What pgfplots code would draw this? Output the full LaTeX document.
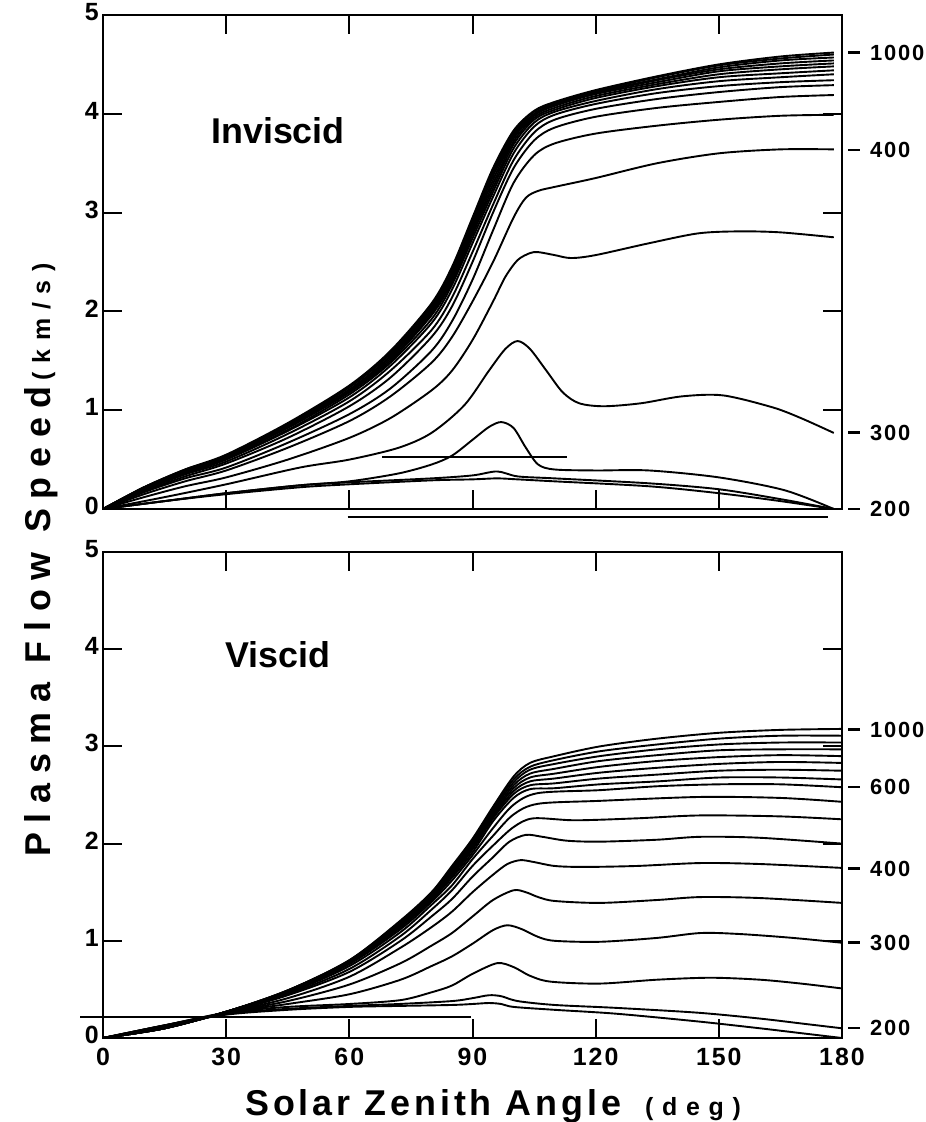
\documentclass[border=0pt]{standalone}
\usepackage{pgfplots}
\pgfplotsset{compat=1.18}
\usepackage{fontspec}
\setmainfont{Liberation Sans}
\newfontfamily\hlabfont[LetterSpace=11]{Liberation Sans}
\newfontfamily\vlabfont[LetterSpace=27]{Liberation Sans}
\newfontfamily\unitfont[LetterSpace=35]{Liberation Sans}
\newfontfamily\tickfont[LetterSpace=8]{Liberation Sans}
\newcommand{\rl}[1]{\rule[0.3em]{12bp}{2.4bp}\hspace{10bp}#1}
\tikzset{rlab/.style={anchor=west, inner sep=0pt, xshift=6bp, font=\tickfont\fontsize{22}{22}\selectfont\bfseries}}
\begin{document}
\begin{tikzpicture}
\useasboundingbox (0bp,0bp) rectangle (926bp,-1122bp);
\pgfplotsset{
  panel/.style={
    scale only axis, width=739bp,
    xmin=0, xmax=180, ymin=0, ymax=5,
    xtick={0,30,...,180}, ytick={0,1,...,5},
    tick align=inside, xtick pos=both, ytick pos=both,
    major tick length=19bp,
    axis line style={line width=2bp},
    major tick style={line width=2bp, black},
    tick label style={font=\tickfont\fontsize{25}{25}\selectfont\bfseries},
    yticklabel style={inner xsep=4bp, yshift=3bp},
    /pgf/number format/assume math mode=true,
    clip=false,
  },
  cv/.style={black, line width=1.9bp, smooth, tension=0.5},
  art/.style={black, line width=2bp},
}

% ---------------- Top panel: Inviscid ----------------
\begin{axis}[panel, at={(103bp,-509bp)}, anchor=south west, height=494bp, xticklabels={}]
% cluster 650-1000 km
\addplot[cv] coordinates {(0,0)(10,0.22)(20,0.40)(30,0.55)(45,0.87)(60,1.25)(70,1.60)(80,2.08)(85,2.45)(90,2.95)(95,3.45)(100,3.83)(105,4.03)(110,4.12)(120,4.24)(135,4.38)(150,4.50)(165,4.58)(178,4.62)};
\addplot[cv] coordinates {(0,0)(10,0.22)(20,0.40)(30,0.54)(45,0.86)(60,1.24)(70,1.58)(80,2.06)(85,2.43)(90,2.92)(95,3.42)(100,3.81)(105,4.02)(110,4.11)(120,4.23)(135,4.37)(150,4.49)(165,4.56)(178,4.60)};
\addplot[cv] coordinates {(0,0)(10,0.22)(20,0.39)(30,0.54)(45,0.85)(60,1.23)(70,1.57)(80,2.04)(85,2.40)(90,2.90)(95,3.40)(100,3.79)(105,4.00)(110,4.10)(120,4.22)(135,4.35)(150,4.47)(165,4.54)(178,4.57)};
\addplot[cv] coordinates {(0,0)(10,0.21)(20,0.39)(30,0.53)(45,0.84)(60,1.21)(70,1.55)(80,2.02)(85,2.38)(90,2.87)(95,3.37)(100,3.77)(105,3.99)(110,4.09)(120,4.21)(135,4.34)(150,4.45)(165,4.51)(178,4.54)};
\addplot[cv] coordinates {(0,0)(10,0.21)(20,0.38)(30,0.53)(45,0.84)(60,1.20)(70,1.54)(80,2.00)(85,2.35)(90,2.84)(95,3.33)(100,3.75)(105,3.98)(110,4.08)(120,4.20)(135,4.32)(150,4.43)(165,4.48)(178,4.51)};
\addplot[cv] coordinates {(0,0)(10,0.21)(20,0.38)(30,0.52)(45,0.83)(60,1.19)(70,1.52)(80,1.98)(85,2.33)(90,2.81)(95,3.29)(100,3.72)(105,3.96)(110,4.06)(120,4.18)(135,4.30)(150,4.40)(165,4.45)(178,4.48)};
\addplot[cv] coordinates {(0,0)(10,0.21)(20,0.38)(30,0.52)(45,0.82)(60,1.18)(70,1.50)(80,1.96)(85,2.30)(90,2.78)(95,3.25)(100,3.69)(105,3.94)(110,4.04)(120,4.16)(135,4.28)(150,4.37)(165,4.41)(178,4.44)};
\addplot[cv] coordinates {(0,0)(10,0.20)(20,0.37)(30,0.51)(45,0.80)(60,1.16)(70,1.48)(80,1.92)(85,2.27)(90,2.74)(95,3.21)(100,3.65)(105,3.91)(110,4.02)(120,4.13)(135,4.25)(150,4.33)(165,4.37)(178,4.40)};
% 600, 550, 500, 450 km
\addplot[cv] coordinates {(0,0)(10,0.20)(20,0.36)(30,0.50)(45,0.79)(60,1.13)(70,1.45)(80,1.88)(85,2.22)(90,2.69)(95,3.16)(100,3.60)(105,3.87)(110,3.99)(120,4.10)(135,4.21)(150,4.28)(165,4.32)(178,4.34)};
\addplot[cv] coordinates {(0,0)(10,0.19)(20,0.35)(30,0.48)(45,0.76)(60,1.09)(70,1.40)(80,1.81)(85,2.14)(90,2.60)(95,3.08)(100,3.53)(105,3.81)(110,3.94)(120,4.05)(135,4.15)(150,4.22)(165,4.27)(178,4.29)};
\addplot[cv] coordinates {(0,0)(10,0.18)(20,0.33)(30,0.46)(45,0.72)(60,1.04)(70,1.33)(80,1.74)(85,2.05)(90,2.50)(95,3.00)(100,3.45)(105,3.73)(110,3.86)(120,3.97)(135,4.06)(150,4.12)(165,4.17)(178,4.19)};
\addplot[cv] coordinates {(0,0)(10,0.17)(20,0.31)(30,0.42)(45,0.67)(60,0.96)(70,1.22)(80,1.60)(85,1.90)(90,2.32)(95,2.82)(100,3.30)(105,3.58)(110,3.70)(120,3.80)(135,3.88)(150,3.94)(165,3.98)(178,3.99)};
% 400 km
\addplot[cv] coordinates {(0,0)(10,0.15)(20,0.28)(30,0.39)(45,0.62)(60,0.89)(70,1.14)(80,1.48)(85,1.74)(90,2.10)(95,2.50)(100,2.95)(103,3.15)(106,3.22)(110,3.26)(120,3.35)(135,3.50)(150,3.60)(165,3.64)(178,3.64)};
% 350 km
\addplot[cv] coordinates {(0,0)(10,0.12)(20,0.23)(30,0.32)(45,0.50)(60,0.72)(70,0.92)(80,1.20)(85,1.40)(90,1.71)(95,2.10)(98,2.35)(101,2.52)(104,2.59)(106,2.60)(110,2.57)(114,2.54)(120,2.57)(133,2.69)(145,2.79)(155,2.81)(165,2.80)(178,2.75)};
% 300 km
\addplot[cv] coordinates {(0,0)(15,0.12)(30,0.25)(48,0.42)(60,0.50)(72,0.62)(80,0.77)(88,1.05)(94,1.40)(98,1.62)(101,1.70)(104,1.62)(108,1.40)(112,1.18)(116,1.07)(122,1.04)(131,1.07)(141,1.14)(151,1.15)(163,1.03)(170,0.92)(178,0.77)};
% 250 km and below
\addplot[cv] coordinates {(0,0)(15,0.08)(30,0.16)(48,0.24)(60,0.28)(72,0.36)(80,0.45)(85,0.54)(90,0.70)(94,0.83)(97,0.88)(100,0.82)(103,0.62)(106,0.45)(110,0.40)(120,0.39)(133,0.39)(150,0.32)(166,0.19)(178,0.0)};
\addplot[cv] coordinates {(0,0)(15,0.08)(30,0.16)(48,0.24)(60,0.27)(80,0.31)(90,0.34)(96,0.38)(101,0.33)(110,0.31)(133,0.26)(150,0.20)(165,0.10)(178,0.0)};
\addplot[cv] coordinates {(0,0)(15,0.08)(30,0.15)(48,0.22)(60,0.25)(80,0.29)(90,0.30)(96,0.31)(101,0.30)(110,0.28)(133,0.23)(150,0.16)(165,0.08)(178,0.0)};
% stray horizontal rules of the original figure
\addplot[art] coordinates {(68,0.53)(113,0.53)};
\addplot[art] coordinates {(59.6,-0.08)(176.6,-0.08)};
\node[anchor=west, font=\fontsize{36}{36}\selectfont\bfseries] at (axis cs:25.5,3.83) {Inviscid};
\node[rlab] at (axis cs:180,4.62) {\rl{1000}};
\node[rlab] at (axis cs:180,3.63) {\rl{400}};
\node[rlab] at (axis cs:180,0.77) {\rl{300}};
\node[rlab] at (axis cs:180,0.0) {\rl{200}};
\end{axis}

% ---------------- Bottom panel: Viscid ----------------
\begin{axis}[panel, at={(103bp,-1038bp)}, anchor=south west, height=486bp,
  xticklabel style={yshift=-7bp}]
\addplot[cv] coordinates {(0,0)(15,0.10)(30,0.27)(45,0.49)(60,0.80)(72.5,1.21)(80,1.50)(85,1.77)(90,2.05)(95,2.38)(100,2.69)(104,2.83)(110,2.90)(121,3.00)(135,3.08)(150,3.14)(165,3.17)(180,3.18)};
\addplot[cv] coordinates {(0,0)(15,0.10)(30,0.27)(45,0.49)(60,0.80)(72.5,1.20)(80,1.49)(85,1.75)(90,2.03)(95,2.36)(100,2.66)(104,2.79)(110,2.86)(121,2.95)(135,3.02)(150,3.08)(165,3.11)(180,3.11)};
\addplot[cv] coordinates {(0,0)(15,0.10)(30,0.27)(45,0.49)(60,0.79)(72.5,1.19)(80,1.48)(85,1.73)(90,2.01)(95,2.34)(100,2.63)(104,2.76)(110,2.82)(121,2.90)(135,2.97)(150,3.02)(165,3.04)(180,3.04)};
\addplot[cv] coordinates {(0,0)(15,0.10)(30,0.27)(45,0.48)(60,0.79)(72.5,1.18)(80,1.47)(85,1.72)(90,1.99)(95,2.32)(100,2.60)(104,2.72)(110,2.77)(121,2.85)(135,2.91)(150,2.96)(165,2.97)(180,2.97)};
\addplot[cv] coordinates {(0,0)(15,0.10)(30,0.27)(45,0.48)(60,0.78)(72.5,1.17)(80,1.46)(85,1.70)(90,1.98)(95,2.30)(100,2.57)(104,2.68)(110,2.72)(121,2.79)(135,2.85)(150,2.89)(165,2.91)(180,2.90)};
\addplot[cv] coordinates {(0,0)(15,0.10)(30,0.27)(45,0.48)(60,0.78)(72.5,1.16)(80,1.45)(85,1.69)(90,1.96)(95,2.28)(100,2.54)(104,2.64)(110,2.67)(121,2.73)(135,2.78)(150,2.82)(165,2.84)(180,2.83)};
\addplot[cv] coordinates {(0,0)(15,0.10)(30,0.27)(45,0.47)(60,0.77)(72.5,1.15)(80,1.44)(85,1.67)(90,1.94)(95,2.26)(100,2.51)(104,2.60)(110,2.62)(121,2.67)(135,2.71)(150,2.75)(165,2.76)(180,2.75)};
\addplot[cv] coordinates {(0,0)(15,0.10)(30,0.27)(45,0.47)(60,0.77)(72.5,1.14)(80,1.42)(85,1.65)(90,1.91)(95,2.23)(100,2.47)(104,2.56)(110,2.57)(121,2.61)(135,2.64)(150,2.68)(165,2.68)(180,2.66)};
% 600 km
\addplot[cv] coordinates {(0,0)(15,0.11)(30,0.27)(45,0.47)(60,0.76)(72.5,1.12)(80,1.40)(85,1.62)(90,1.88)(95,2.16)(100,2.40)(106,2.52)(121,2.55)(135,2.59)(150,2.61)(165,2.61)(180,2.58)};
\addplot[cv] coordinates {(0,0)(15,0.11)(30,0.26)(45,0.46)(60,0.74)(72.5,1.09)(80,1.37)(85,1.57)(90,1.84)(95,2.08)(100,2.30)(106,2.41)(121,2.44)(145.5,2.48)(165,2.47)(180,2.43)};
\addplot[cv] coordinates {(0,0)(15,0.11)(30,0.26)(45,0.45)(60,0.71)(72.5,1.05)(80,1.32)(85,1.52)(90,1.77)(95,1.98)(100,2.17)(104.8,2.26)(115,2.24)(130,2.26)(145.5,2.29)(165,2.28)(180,2.25)};
\addplot[cv] coordinates {(0,0)(15,0.11)(30,0.26)(45,0.44)(60,0.68)(72.5,1.00)(80,1.25)(85,1.43)(90,1.66)(95,1.86)(99,2.02)(103,2.09)(107,2.07)(113,2.03)(121,2.02)(135,2.04)(145.5,2.07)(160,2.06)(180,2.00)};
% 400 km
\addplot[cv] coordinates {(0,0)(15,0.12)(30,0.26)(45,0.41)(60,0.63)(72.5,0.93)(80,1.14)(85,1.30)(90,1.50)(95,1.68)(98.5,1.79)(101.7,1.83)(105,1.81)(110,1.77)(117,1.76)(130,1.77)(145.5,1.80)(160,1.79)(180,1.75)};
\addplot[cv] coordinates {(0,0)(15,0.12)(30,0.26)(45,0.38)(60,0.55)(72.5,0.77)(80,0.95)(85,1.08)(90,1.25)(95,1.42)(100,1.52)(103,1.50)(106,1.45)(110,1.41)(121,1.39)(135,1.42)(145.5,1.45)(160,1.44)(180,1.39)};
% 300 km
\addplot[cv] coordinates {(0,0)(15,0.13)(30,0.26)(45,0.35)(60,0.45)(72.5,0.60)(80,0.74)(85,0.84)(90,0.97)(95,1.11)(98.5,1.16)(102,1.12)(106,1.04)(110,1.00)(121,0.99)(135,1.03)(145.5,1.08)(155,1.07)(168,1.03)(180,0.98)};
\addplot[cv] coordinates {(0,0)(15,0.13)(30,0.26)(45,0.32)(60,0.35)(72.5,0.39)(80,0.47)(85,0.54)(90,0.66)(96,0.77)(100,0.73)(104,0.64)(109,0.58)(121,0.56)(135,0.60)(148,0.62)(160,0.60)(170,0.56)(180,0.51)};
% 200 km and below
\addplot[cv] coordinates {(0,0)(15,0.13)(30,0.25)(45,0.30)(60,0.33)(72,0.35)(85,0.38)(90,0.41)(94,0.44)(97,0.43)(101,0.38)(110,0.34)(125,0.31)(145,0.26)(160,0.20)(170,0.15)(180,0.10)};
\addplot[cv] coordinates {(0,0)(15,0.13)(30,0.24)(45,0.29)(60,0.32)(72,0.33)(85,0.34)(90,0.35)(94,0.36)(97,0.35)(100,0.32)(110,0.29)(125,0.25)(145,0.17)(160,0.10)(170,0.05)(180,0.0)};
% stray horizontal rule of the original figure
\addplot[art] coordinates {(-5.6,0.22)(89.6,0.22)};
\node[anchor=west, font=\fontsize{36}{36}\selectfont\bfseries] at (axis cs:29,3.94) {Viscid};
\node[rlab] at (axis cs:180,3.17) {\rl{1000}};
\node[rlab] at (axis cs:180,2.58) {\rl{600}};
\node[rlab] at (axis cs:180,1.74) {\rl{400}};
\node[rlab] at (axis cs:180,0.98) {\rl{300}};
\node[rlab] at (axis cs:180,0.10) {\rl{200}};
\end{axis}

% axis titles
\node[rotate=90, anchor=base west, inner sep=0pt] at (50bp,-857bp)
  {\vlabfont\bfseries\fontsize{36}{36}\selectfont Plasma Flow Speed\hspace{6bp}{\unitfont\fontsize{25}{25}\selectfont (km/s)}};
\node[anchor=base west, inner sep=0pt] at (245bp,-1115bp)
  {\hlabfont\bfseries\fontsize{36}{36}\selectfont Solar Zenith Angle\hspace{24bp}{\unitfont\fontsize{25}{25}\selectfont (deg)}};
\end{tikzpicture}
\end{document}
